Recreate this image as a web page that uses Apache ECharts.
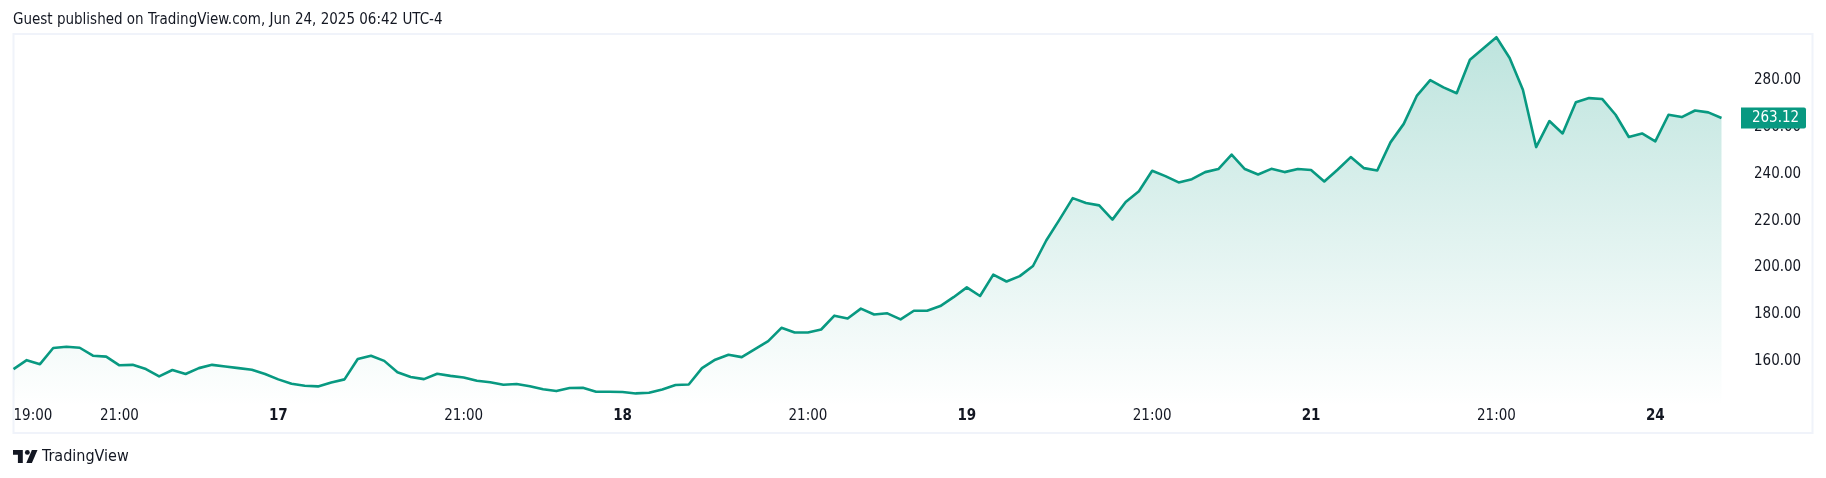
<!DOCTYPE html>
<html><head><meta charset="utf-8">
<style>html,body{margin:0;padding:0;background:#fff}#c{width:1826px;height:478px}</style>
<script src="https://cdn.jsdelivr.net/npm/echarts@6/dist/echarts.min.js"></script></head>
<body><div id="c"></div>
<script>
const sessionDays = [16, 17, 18, 19, 21, 24];
const sessionTimes = ['17:30','17:45','18:00','18:15','18:30','18:45','19:00','19:15','19:30','19:45','20:00','20:15','20:30','20:45','21:00','21:15','21:30','21:45','22:00','22:15','22:30','22:45','23:00','23:15','23:30','23:45'];
const prices = [155.9,159.7,158.0,164.9,165.4,165.0,161.6,161.2,157.5,157.7,
155.9,152.8,155.5,153.8,156.3,157.7,157.0,156.3,155.6,153.8,
151.5,149.6,148.8,148.5,150.2,151.5,160.2,161.6,159.4,154.5,
152.5,151.6,153.9,153.0,152.3,150.9,150.3,149.2,149.5,148.6,
147.3,146.5,147.8,147.9,146.2,146.2,146.1,145.5,145.8,147.2,
149.1,149.3,156.3,159.9,162.0,161.0,164.4,167.8,173.5,171.5,
171.5,172.8,178.7,177.5,181.7,179.2,179.7,177.1,180.8,180.8,
182.8,186.6,190.8,187.1,196.2,193.3,195.6,199.9,210.8,219.7,
228.9,226.8,225.8,219.7,227.2,231.8,240.6,238.3,235.6,237.0,
240.0,241.3,247.5,241.3,239.0,241.4,240.0,241.3,240.9,236.0,
241.0,246.4,241.7,240.7,252.7,260.6,272.7,279.3,276.2,273.7,
288.0,292.8,297.6,288.7,275.2,250.7,261.8,256.5,269.8,271.6,
271.2,264.5,255.0,256.5,253.1,264.5,263.5,266.3,265.5,263.12];
const tickIndexes = [0,8,20,34,46,60,72,86,98,112,124];
const tickLabels = ['19:00','21:00','17','21:00','18','21:00','19','21:00','21','21:00','24'];
const boldTicks = ['17','18','19','21','24'];
const lastPrice = 263.12;
const titleText = 'Guest published on TradingView.com, Jun 24, 2025 06:42 UTC-4';
const brandText = 'TradingView';

const categories = prices.map((_, i) => {
  const k = i + 6;
  return sessionDays[Math.floor(k / 26)] + ' ' + sessionTimes[k % 26];
});
const FONT = 'DejaVu Sans Condensed, DejaVu Sans';
const INK = '#131722', GREEN = '#089981';
const chart = echarts.init(document.getElementById('c'), null, {renderer: 'canvas'});
chart.setOption({
  animation: false,
  backgroundColor: '#ffffff',
  textStyle: {fontFamily: FONT},
  grid: {left: 13.5, width: 1708, top: 31.6, height: 374.7},
  title: [{text: titleText, left: 13, top: 11, padding: 0,
    textStyle: {fontFamily: FONT, fontSize: 15, fontWeight: 'normal', color: INK, lineHeight: 18}}],
  xAxis: {type: 'category', data: categories, boundaryGap: false,
    axisLine: {show: false}, axisTick: {show: false}, splitLine: {show: false},
    axisLabel: {
      margin: 2, interval: (i) => tickIndexes.includes(i), alignMinLabel: 'left', hideOverlap: false,
      color: INK, fontSize: 15, fontFamily: FONT,
      formatter: (v, i) => {
        const t = tickLabels[tickIndexes.indexOf(i)];
        return boldTicks.includes(t) ? '{b|' + t + '}' : t;
      },
      rich: {b: {fontWeight: 'bold', fontSize: 15, fontFamily: FONT, color: INK}}
    }},
  yAxis: {type: 'value', position: 'right', min: 140, max: 300, interval: 20,
    axisLine: {show: false}, axisTick: {show: false}, splitLine: {show: false},
    axisLabel: {align: 'left', margin: 32.5, showMinLabel: false, showMaxLabel: false,
      color: INK, fontSize: 15, fontFamily: FONT, formatter: (v) => '{v|' + v.toFixed(2) + '}',
      rich: {v: {padding: [3.5, 0, 0, 0], fontSize: 15, fontFamily: FONT, color: INK}}}},
  series: [{type: 'line', data: prices, symbol: 'none', smooth: false,
    lineStyle: {color: GREEN, width: 2.6, join: 'round'},
    areaStyle: {color: new echarts.graphic.LinearGradient(0, 0, 0, 1, [
      {offset: 0, color: 'rgba(8,153,129,0.38)'},
      {offset: 1, color: 'rgba(8,153,129,0.0)'}])},
    markPoint: {silent: true, animation: false, data: [{
      coord: [prices.length - 1, lastPrice],
      symbol: 'path://M0 0H63a2 2 0 0 1 2 2V19a2 2 0 0 1 -2 2H0Z',
      symbolSize: [65, 21], symbolOffset: [52, 0], symbolKeepAspect: false,
      itemStyle: {color: GREEN},
      label: {show: true, position: 'inside', formatter: lastPrice.toFixed(2), color: '#ffffff',
        fontSize: 15, fontFamily: FONT, offset: [2, 0]}
    }]}
  }],
  graphic: [
    {type: 'rect', z: -1, shape: {x: 13.5, y: 34, width: 1799, height: 399},
      style: {fill: 'none', stroke: '#f0f3fa', lineWidth: 2}},
    {type: 'group', x: 13, y: 450, scaleX: 0.7, scaleY: 0.68, children: [
      {type: 'polygon', shape: {points: [[0,0],[14,0],[14,19],[7,19],[7,7],[0,7]]}, style: {fill: INK}},
      {type: 'circle', shape: {cx: 20.5, cy: 3.5, r: 3.5}, style: {fill: INK}},
      {type: 'polygon', shape: {points: [[27,0],[35,0],[27,19],[19,19]]}, style: {fill: INK}}
    ]},
    {type: 'text', x: 42, y: 447.5,
      style: {text: brandText, fill: INK, fontFamily: FONT, fontSize: 16, lineHeight: 18}}
  ]
});
</script></body></html>
